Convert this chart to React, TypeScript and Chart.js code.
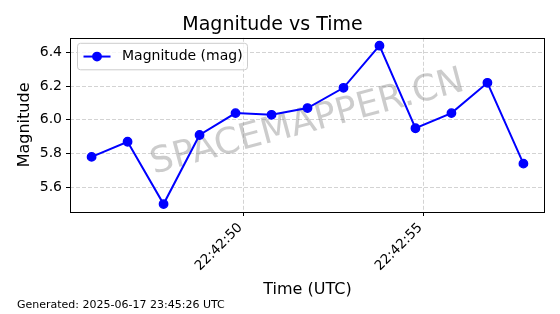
import React, { useEffect, useRef } from "react";
import { Chart, registerables } from "chart.js";

Chart.register(...registerables);

// ---- Data ----
const TIMES = [
  "22:42:45.78", "22:42:46.78", "22:42:47.78", "22:42:48.78", "22:42:49.78",
  "22:42:50.78", "22:42:51.78", "22:42:52.78", "22:42:53.78", "22:42:54.78",
  "22:42:55.78", "22:42:56.78", "22:42:57.78",
];
const MAGNITUDES = [5.78, 5.87, 5.5, 5.91, 6.04, 6.03, 6.07, 6.19, 6.44, 5.95, 6.04, 6.22, 5.74];
const X_TICKS = ["22:42:50", "22:42:55"];
const Y_TICKS = [5.6, 5.8, 6.0, 6.2, 6.4];

const TITLE = "Magnitude vs Time";
const SERIES_LABEL = "Magnitude (mag)";
const X_LABEL = "Time (UTC)";
const Y_LABEL = "Magnitude";
const WATERMARK = "SPACEMAPPER.CN";
const FOOTER = "Generated: 2025-06-17 23:45:26 UTC";

const FONT = "'DejaVu Sans', sans-serif";

const toSec = (s: string) => {
  const [h, m, sec] = s.split(":");
  return Number(h) * 3600 + Number(m) * 60 + parseFloat(sec);
};
const pad2 = (n: number) => String(n).padStart(2, "0");
const fmtTime = (v: number) => {
  const t = Math.round(v);
  return `${pad2(Math.floor(t / 3600))}:${pad2(Math.floor((t % 3600) / 60))}:${pad2(t % 60)}`;
};

const xs = TIMES.map(toSec);
const xMinD = Math.min(...xs), xMaxD = Math.max(...xs);
const yMinD = Math.min(...MAGNITUDES), yMaxD = Math.max(...MAGNITUDES);
const xPad = (xMaxD - xMinD) * 0.05;
const yPad = (yMaxD - yMinD) * 0.05;

const framePlugin = {
  id: "frameAndExtras",
  beforeDatasetsDraw(chart: any) {
    const { ctx, chartArea: a } = chart;
    ctx.save();
    ctx.translate((a.left + a.right) / 2, (a.top + a.bottom) / 2 - 2);
    ctx.rotate((-15 * Math.PI) / 180);
    ctx.font = `36px ${FONT}`;
    ctx.fillStyle = "rgba(128,128,128,0.4)";
    ctx.textAlign = "center";
    ctx.textBaseline = "middle";
    ctx.fillText(WATERMARK, 0, 0);
    ctx.restore();
  },
  afterDatasetsDraw(chart: any) {
    const { ctx, chartArea: a } = chart;
    // axes frame
    ctx.save();
    ctx.strokeStyle = "#000";
    ctx.lineWidth = 1;
    ctx.strokeRect(Math.round(a.left) + 0.5, Math.round(a.top) + 0.5, Math.round(a.right - a.left) - 1, Math.round(a.bottom - a.top));
    // legend
    const lx = a.left + 7.5, ly = a.top + 5.5, lw = 170, lh = 26.5, r = 3;
    ctx.beginPath();
    ctx.moveTo(lx + r, ly);
    ctx.lineTo(lx + lw - r, ly);
    ctx.arcTo(lx + lw, ly, lx + lw, ly + r, r);
    ctx.lineTo(lx + lw, ly + lh - r);
    ctx.arcTo(lx + lw, ly + lh, lx + lw - r, ly + lh, r);
    ctx.lineTo(lx + r, ly + lh);
    ctx.arcTo(lx, ly + lh, lx, ly + lh - r, r);
    ctx.lineTo(lx, ly + r);
    ctx.arcTo(lx, ly, lx + r, ly, r);
    ctx.closePath();
    ctx.fillStyle = "rgba(255,255,255,0.8)";
    ctx.fill();
    ctx.strokeStyle = "#cccccc";
    ctx.stroke();
    const cy = ly + lh / 2;
    ctx.strokeStyle = "#0000ff";
    ctx.lineWidth = 2;
    ctx.beginPath();
    ctx.moveTo(lx + 6, cy);
    ctx.lineTo(lx + 33, cy);
    ctx.stroke();
    ctx.fillStyle = "#0000ff";
    ctx.beginPath();
    ctx.arc(lx + 19.5, cy, 4.9, 0, Math.PI * 2);
    ctx.fill();
    ctx.fillStyle = "#000";
    ctx.font = `14px ${FONT}`;
    ctx.textAlign = "left";
    ctx.textBaseline = "middle";
    ctx.fillText(SERIES_LABEL, lx + 44.5, cy);
    ctx.restore();
  },
  afterDraw(chart: any) {
    const { ctx } = chart;
    ctx.save();
    ctx.fillStyle = "#000";
    ctx.font = `11px ${FONT}`;
    ctx.textAlign = "left";
    ctx.textBaseline = "middle";
    ctx.fillText(FOOTER, 17, 305);
    ctx.restore();
  },
};

export default function App() {
  const ref = useRef<HTMLCanvasElement | null>(null);

  useEffect(() => {
    if (!ref.current) return;
    const gridColor = "rgba(176,176,176,0.7)";
    const chart = new Chart(ref.current, {
      type: "line",
      data: {
        datasets: [
          {
            label: SERIES_LABEL,
            data: xs.map((x, i) => ({ x, y: MAGNITUDES[i] })),
            borderColor: "#0000ff",
            backgroundColor: "#0000ff",
            borderWidth: 2,
            pointRadius: 4.2,
            pointBorderWidth: 1.4,
            pointBorderColor: "#0000ff",
            pointBackgroundColor: "#0000ff",
            tension: 0,
            fill: false,
          },
        ],
      },
      options: {
        responsive: false,
        animation: false,
        events: [],
        layout: { padding: { left: 0, right: 15, top: 0, bottom: 15 } },
        plugins: {
          legend: { display: false },
          tooltip: { enabled: false },
          title: {
            display: true,
            text: TITLE,
            color: "#000",
            font: { family: FONT, size: 19, weight: "normal" },
            padding: { top: 14, bottom: 1 },
          },
        },
        scales: {
          x: {
            type: "linear",
            min: xMinD - xPad,
            max: xMaxD + xPad,
            afterBuildTicks: (s: any) => {
              s.ticks = X_TICKS.map((t) => ({ value: toSec(t) }));
            },
            afterFit: (s: any) => {
              s.height = 87;
            },
            ticks: {
              autoSkip: false,
              minRotation: 45,
              maxRotation: 45,
              padding: 4,
              labelOffset: -3,
              color: "#000",
              font: { family: FONT, size: 13.5 },
              callback: (v: any) => fmtTime(Number(v)),
            },
            grid: {
              color: gridColor,
              lineWidth: 0.8,
              tickColor: "#000",
              tickLength: 4,
              tickWidth: 1,
              tickBorderDash: [],
            },
            border: { display: false, dash: [4, 2] },
            title: {
              display: true,
              text: X_LABEL,
              color: "#000",
              font: { family: FONT, size: 16 },
              padding: { top: 0, bottom: 0 },
            },
          },
          y: {
            type: "linear",
            min: yMinD - yPad,
            max: yMaxD + yPad,
            afterBuildTicks: (s: any) => {
              s.ticks = Y_TICKS.map((v) => ({ value: v }));
            },
            afterFit: (s: any) => {
              s.width = 70;
            },
            ticks: {
              padding: 4,
              color: "#000",
              font: { family: FONT, size: 14 },
              callback: (v: any) => Number(v).toFixed(1),
            },
            grid: {
              color: gridColor,
              lineWidth: 0.8,
              tickColor: "#000",
              tickLength: 4,
              tickWidth: 1,
              tickBorderDash: [],
            },
            border: { display: false, dash: [4, 2] },
            title: {
              display: true,
              text: Y_LABEL,
              color: "#000",
              font: { family: FONT, size: 16 },
              padding: { top: 15, bottom: 0 },
            },
          },
        },
      },
      plugins: [framePlugin],
    } as any);
    return () => chart.destroy();
  }, []);

  return (
    <div style={{ position: "fixed", left: 0, top: 0, width: 560, height: 314, background: "#fff" }}>
      <canvas ref={ref} width={560} height={314} style={{ display: "block", width: 560, height: 314 }} />
    </div>
  );
}
